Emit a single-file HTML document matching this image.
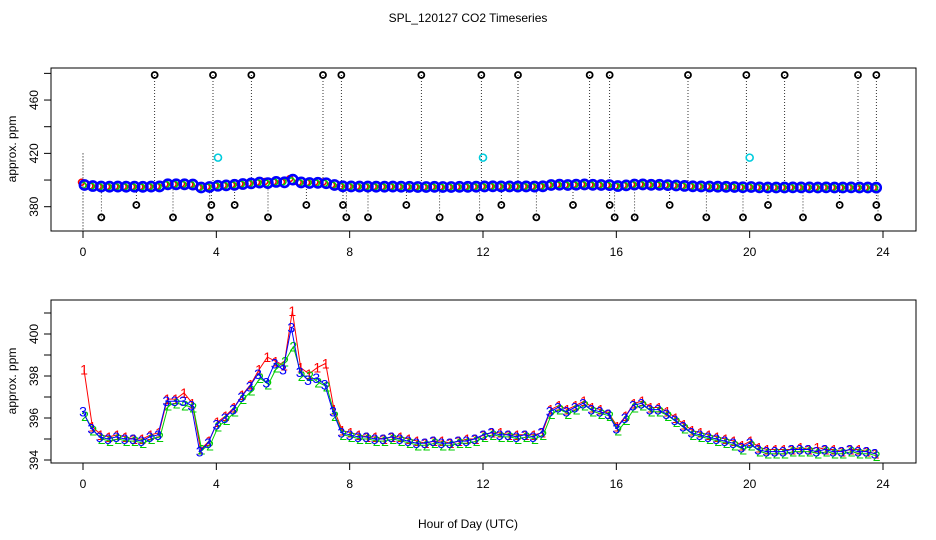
<!DOCTYPE html>
<html><head><meta charset="utf-8"><style>
body{margin:0;background:#fff;}
svg{display:block;font-family:"Liberation Sans",sans-serif;}
</style></head><body>
<svg id="c" width="936" height="540">
<text x="468" y="22" text-anchor="middle" font-size="12">SPL_120127  CO2 Timeseries</text>
<text x="468" y="528" text-anchor="middle" font-size="12">Hour of Day (UTC)</text>
<text transform="translate(16,149) rotate(-90)" text-anchor="middle" font-size="12">approx. ppm</text>
<text transform="translate(16,381) rotate(-90)" text-anchor="middle" font-size="12">approx. ppm</text>
<g id="topPanel"></g>
<g id="botPanel"></g>
</svg>
<script>
const hours=[];for(let i=0;i<96;i++)hours.push(i*0.25);
const blueVals=[396.3,395.5,395.1,395.0,395.1,395.0,395.0,394.9,395.1,395.2,396.8,396.8,396.8,396.6,394.4,394.8,
395.7,396.0,396.4,397.0,397.5,398.1,397.7,398.6,398.3,400.3,398.2,397.8,397.9,397.6,396.3,395.3,
395.2,395.1,395.1,395.0,395.0,395.1,395.0,394.9,394.8,394.8,394.9,394.8,394.8,394.9,394.9,395.0,
395.2,395.3,395.2,395.2,395.1,395.2,395.1,395.3,396.3,396.5,396.3,396.5,396.7,396.4,396.3,396.2,
395.5,396.0,396.6,396.7,396.4,396.4,396.2,395.9,395.6,395.3,395.2,395.1,395.0,394.9,394.8,394.6,
394.8,394.5,394.4,394.4,394.4,394.5,394.5,394.5,394.4,394.5,394.4,394.4,394.5,394.4,394.4,394.3];
const redVals=[398.3,395.6,395.2,395.1,395.2,395.1,395.0,395.0,395.2,395.3,396.9,396.9,397.2,396.7,394.5,394.9,
395.8,396.1,396.5,397.1,397.6,398.3,398.9,398.7,398.5,401.1,398.4,398.1,398.4,398.6,396.4,395.4,
395.3,395.2,395.1,395.1,395.0,395.1,395.1,395.0,394.9,394.8,394.9,394.9,394.8,394.9,395.0,395.0,
395.2,395.3,395.3,395.2,395.2,395.2,395.2,395.3,396.4,396.6,396.4,396.6,396.8,396.5,396.4,396.2,
395.6,396.1,396.7,396.8,396.5,396.5,396.3,396.0,395.7,395.4,395.3,395.2,395.1,395.0,394.9,394.7,
394.9,394.6,394.5,394.5,394.5,394.5,394.6,394.5,394.6,394.5,394.5,394.4,394.5,394.5,394.4,394.3];
const greenVals=[396.1,395.4,395.0,394.9,395.0,394.9,394.9,394.8,395.0,395.1,396.6,396.7,396.6,396.5,394.5,394.7,
395.6,395.9,396.3,396.9,397.3,397.9,397.6,398.4,398.7,399.4,398.0,398.0,397.7,397.5,396.1,395.2,
395.1,395.0,395.0,394.9,394.9,395.0,394.9,394.8,394.7,394.7,394.8,394.7,394.7,394.8,394.8,394.9,
395.1,395.2,395.1,395.1,395.0,395.1,395.0,395.2,396.2,396.4,396.2,396.4,396.6,396.3,396.2,396.1,
395.4,395.9,396.5,396.6,396.3,396.3,396.1,395.8,395.5,395.2,395.1,395.0,394.9,394.8,394.7,394.5,
394.7,394.4,394.3,394.3,394.3,394.4,394.4,394.4,394.3,394.4,394.3,394.3,394.4,394.3,394.3,394.2];
const highHours=[2.15,3.9,5.05,7.2,7.75,10.15,11.95,13.05,15.2,15.8,18.15,19.9,21.05,23.25,23.8];
const highVal=478.8;
const lowHours=[0.55,2.7,3.8,5.55,7.9,8.55,10.7,11.9,13.6,15.95,16.55,18.7,19.8,21.6,23.85];
const lowVal=372;
const midHours=[1.6,4.55,6.7,9.7,12.55,14.7,17.6,20.55,22.7,3.85,7.8,15.8,23.8];
const midVal=381.3;
const cyanHours=[4.05,12.0,20.0];
const cyanVal=416.8;
const xTicks=[0,4,8,12,16,20,24];
const topTicks=[380,420,460];
const topMinor=[400,440,480];
const botTicks=[394,396,398,400];
const botMinor=[395,397,399,401];

const NS="http://www.w3.org/2000/svg";
function mk(p,t,a){const e=document.createElementNS(NS,t);for(const k in a)e.setAttribute(k,a[k]);p.appendChild(e);return e;}
const X=h=>83+h*33.333;
const Yt=v=>206.7-(v-380)*1.3333;
const Yb=v=>460-(v-394)*21.0;
const gTop=document.getElementById('topPanel'),gBot=document.getElementById('botPanel');

function frame(g,y0,y1,Y,ticks,minor,name){
  const r=mk(g,'rect',{x:51,y:y0,width:865,height:y1-y0,fill:'none',stroke:'#000','stroke-width':1});
  
  
  xTicks.forEach(h=>{
    mk(g,'line',{x1:X(h),x2:X(h),y1:y1,y2:y1+7,stroke:'#000'});
    const t=mk(g,'text',{x:X(h),y:y1+25,'text-anchor':'middle','font-size':12});
    t.textContent=h;
    
    
  });
  ticks.concat(minor).forEach(v=>mk(g,'line',{x1:44,x2:51,y1:Y(v),y2:Y(v),stroke:'#000'}));
  ticks.forEach(v=>{
    const t=mk(g,'text',{transform:`translate(38,${Y(v)}) rotate(-90)`,'text-anchor':'middle','font-size':12});
    t.textContent=v;
    
    
  });
}
frame(gTop,68,231,Yt,topTicks,topMinor,'top');
frame(gBot,300,463,Yb,botTicks,botMinor,'bottom');

const base=395;
mk(gTop,'line',{x1:X(0),x2:X(0),y1:Yt(420),y2:231,stroke:'#000','stroke-dasharray':'1,2'});
[[highHours,highVal],[lowHours,lowVal],[midHours,midVal]].forEach(([hs,v])=>hs.forEach(h=>{
  mk(gTop,'line',{x1:X(h),x2:X(h),y1:Yt(v),y2:Yt(base),stroke:'#000','stroke-width':0.8,'stroke-dasharray':'1,2'});
}));
[[redVals,'#f00',3],[greenVals,'#0c0',3],[blueVals,'#00f',4.6]].forEach(([vals,c,rad],si)=>{
  vals.forEach((v,i)=>{
    const e=mk(gTop,'circle',{cx:X(hours[i])+(si-1)*1.5,cy:Yt(v),r:rad,fill:'none',stroke:c,'stroke-width':si===2?2.6:1.5});
    
    
  });
});
[[highHours,highVal],[lowHours,lowVal],[midHours,midVal]].forEach(([hs,v])=>hs.forEach(h=>{
  const e=mk(gTop,'circle',{cx:X(h),cy:Yt(v),r:3,fill:'none',stroke:'#000','stroke-width':1.8});
  
  
}));
cyanHours.forEach(h=>{
  const e=mk(gTop,'circle',{cx:X(h),cy:Yt(cyanVal),r:3.5,fill:'none',stroke:'#0cd','stroke-width':1.6});
  
  
});

function series(vals,c,ch,name,dx){
  const pts=vals.map((v,i)=>`${X(hours[i])+dx},${Yb(v)}`).join(' ');
  const pl=mk(gBot,'polyline',{points:pts,fill:'none',stroke:c,'stroke-width':1});
  
  
  vals.forEach((v,i)=>{
    const t=mk(gBot,'text',{x:X(hours[i])+dx,y:Yb(v)+5,'text-anchor':'middle','font-size':14,fill:c});
    t.textContent=ch;
    
    
  });
}
series(redVals,'#f00','1','series-1',1);
series(greenVals,'#0c0','2','series-2',2);
series(blueVals,'#00f','3','series-3',0);
</script>
</body></html>
